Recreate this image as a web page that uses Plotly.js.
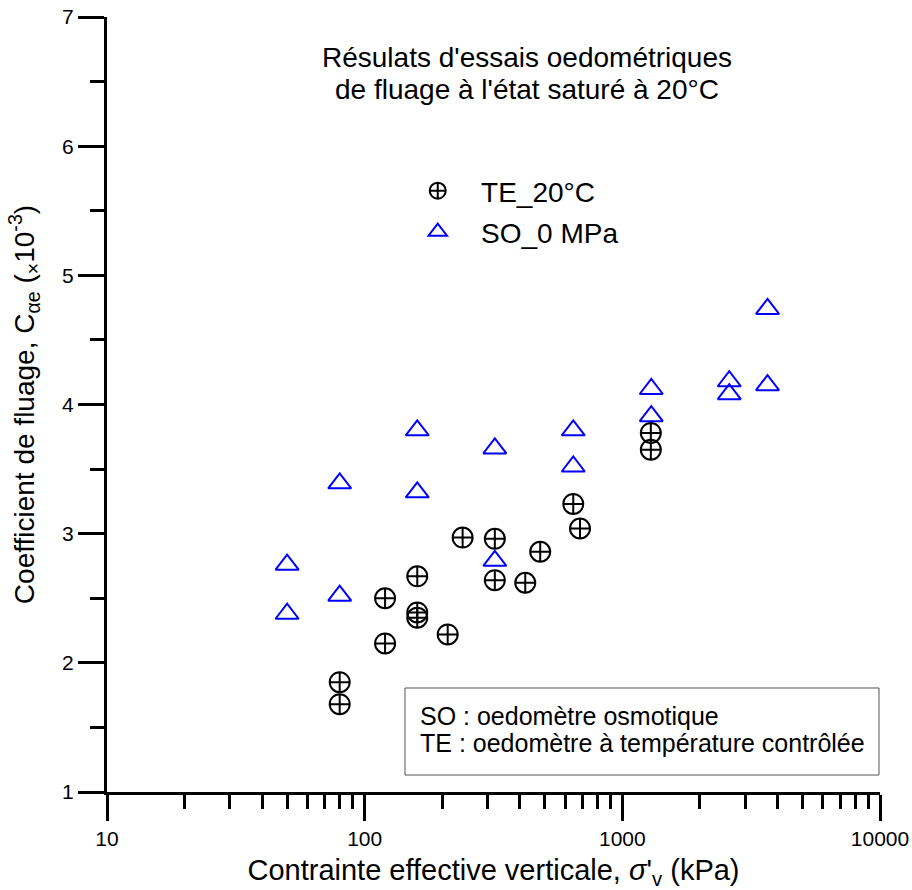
<!DOCTYPE html>
<html>
<head>
<meta charset="utf-8">
<script src="https://cdn.plot.ly/plotly-3.0.1.min.js"></script>
<style>body{margin:0;padding:0;background:#fff;} #chart{width:912px;height:890px;}</style>
</head>
<body>
<div id="chart"></div>
<script>
// TE_20°C (oedomètre à température contrôlée)
const teX = [80, 80, 120, 120, 160, 160, 160, 210, 240, 320, 320, 420, 480, 645, 685, 1290, 1290];
const teY = [1.85, 1.68, 2.50, 2.15, 2.67, 2.39, 2.35, 2.22, 2.97, 2.96, 2.64, 2.62, 2.86, 3.23, 3.04, 3.78, 3.65];
// SO_0 MPa (oedomètre osmotique)
const soX = [50, 50, 80, 80, 160, 160, 320, 320, 645, 645, 1295, 1295, 2600, 2600, 3660, 3660];
const soY = [2.76, 2.38, 3.39, 2.52, 3.80, 3.32, 3.66, 2.79, 3.80, 3.52, 4.12, 3.91, 4.18, 4.08, 4.74, 4.15];
// axis ticks
const xTickVals = [10, 100, 1000, 10000];
const xTickText = ['10', '100', '1000', '10000'];
const yTickVals = [1, 2, 3, 4, 5, 6, 7];

const FONT = 'Liberation Sans, Arial, sans-serif';
const NB = '\u00a0\u00a0\u00a0';

const traces = [
  {
    x: teX, y: teY, type: 'scatter', mode: 'markers', name: NB + 'TE_20°C',
    legend: 'legend',
    marker: {symbol: 'circle-cross-open', size: 20, color: '#000', line: {color: '#000', width: 2}}
  },
  {
    x: soX, y: soY, type: 'scatter', mode: 'markers', name: NB + 'SO_0 MPa',
    legend: 'legend2',
    marker: {symbol: 'triangle-up-open', size: 20, color: '#0000ff', line: {color: '#0000ff', width: 2}}
  }
];

const layout = {
  width: 912, height: 890,
  margin: {l: 107, r: 32, t: 17, b: 98},
  paper_bgcolor: '#fff', plot_bgcolor: '#fff',
  font: {family: FONT, color: '#000'},
  showlegend: true,
  legend: {x: 0.402, y: 0.7755, xanchor: 'left', yanchor: 'middle', bgcolor: 'rgba(0,0,0,0)', font: {size: 28, family: FONT}},
  legend2: {x: 0.402, y: 0.7226, xanchor: 'left', yanchor: 'middle', bgcolor: 'rgba(0,0,0,0)', font: {size: 28, family: FONT}},
  xaxis: {
    type: 'log', range: [1, 4],
    showline: true, linewidth: 3, linecolor: '#000',
    showgrid: false, zeroline: false,
    ticks: 'outside', ticklen: 26, tickwidth: 3, tickcolor: '#000',
    tickvals: xTickVals, ticktext: xTickText,
    tickfont: {size: 21, family: FONT},
    minor: {ticks: 'outside', ticklen: 14, tickwidth: 3, tickcolor: '#000', dtick: 'D1', showgrid: false},
    title: {text: "Contrainte effective verticale, <i>σ</i>'<sub>v</sub> (kPa)", font: {size: 29, family: FONT}, standoff: 11}
  },
  yaxis: {
    range: [1, 7],
    showline: true, linewidth: 3, linecolor: '#000',
    showgrid: false, zeroline: false,
    ticks: 'outside', ticklen: 26, tickwidth: 3, tickcolor: '#000',
    tickvals: yTickVals,
    tickfont: {size: 21, family: FONT},
    minor: {ticks: 'outside', ticklen: 14, tickwidth: 3, tickcolor: '#000', dtick: 0.5, showgrid: false},
    title: {text: 'Coefficient de fluage, C<sub>αe</sub> (<sub>×</sub>10<sup>-3</sup>)', font: {size: 28, family: FONT}, standoff: 20}
  },
  shapes: [
    {type: 'rect', xref: 'paper', yref: 'paper', x0: 0.3855, x1: 0.9987, y0: 0.0219, y1: 0.1342,
     line: {color: '#555', width: 1}, fillcolor: 'rgba(0,0,0,0)'}
  ],
  annotations: [
    {xref: 'paper', yref: 'paper', x: 0.543, y: 0.948, xanchor: 'center', yanchor: 'middle', showarrow: false,
     text: "Résulats d'essais oedométriques", font: {size: 28, family: FONT}},
    {xref: 'paper', yref: 'paper', x: 0.543, y: 0.907, xanchor: 'center', yanchor: 'middle', showarrow: false,
     text: "de fluage à l'état saturé à 20°C", font: {size: 28, family: FONT}},
    {xref: 'paper', yref: 'paper', x: 0.4023, y: 0.098, xanchor: 'left', yanchor: 'middle', showarrow: false,
     text: 'SO : oedomètre osmotique', font: {size: 25, family: FONT}},
    {xref: 'paper', yref: 'paper', x: 0.4023, y: 0.0632, xanchor: 'left', yanchor: 'middle', showarrow: false,
     text: 'TE : oedomètre à température contrôlée', font: {size: 25, family: FONT}}
  ]
};

Plotly.newPlot('chart', traces, layout, {displayModeBar: false, staticPlot: true});
</script>
</body>
</html>
